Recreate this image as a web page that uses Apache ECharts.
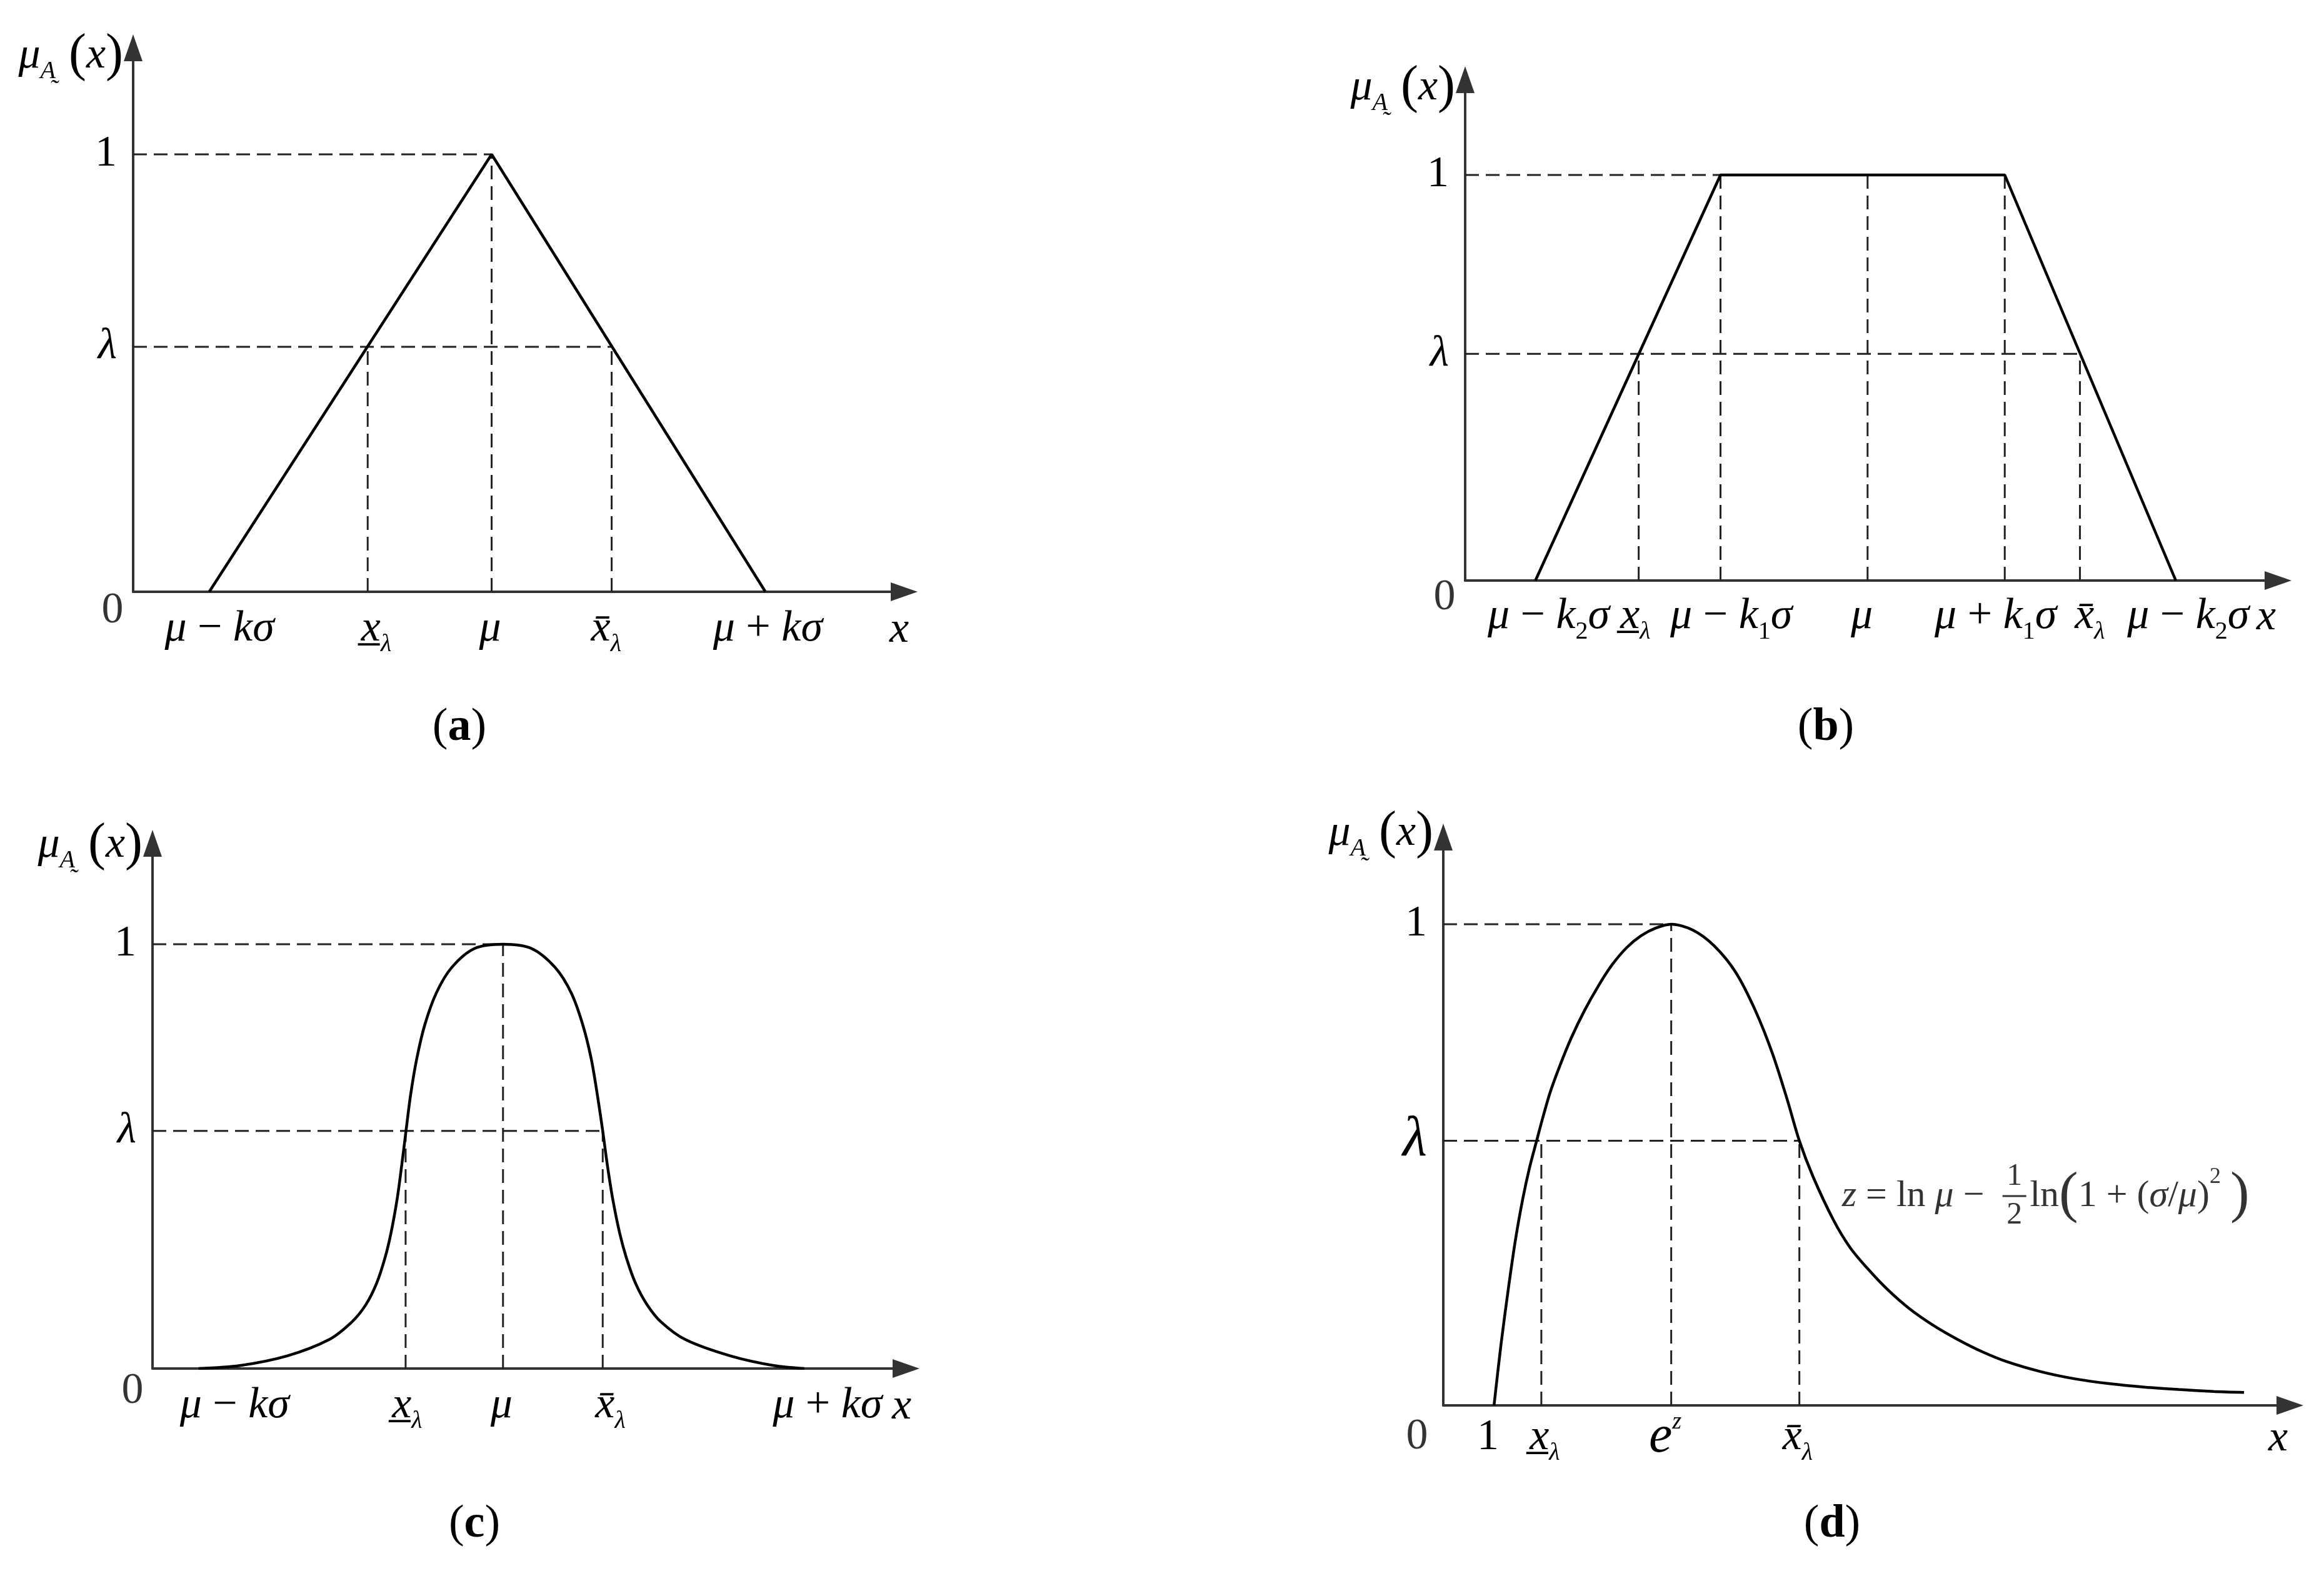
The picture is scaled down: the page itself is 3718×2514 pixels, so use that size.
<!DOCTYPE html>
<html>
<head>
<meta charset="utf-8">
<script src="https://cdn.jsdelivr.net/npm/echarts@6/dist/echarts.min.js"></script>
<style>
  html, body { margin: 0; background: #fff; }
  #chart { width: 3718px; height: 2514px; }
</style>
</head>
<body>
<div id="chart"></div>
<script>
// x values are in "percent of the axis up to the arrow tip", y values are membership degrees

// (a) triangular membership
const aCurve = [[9.7, 0], [45.7, 1], [80.6, 0]]
const aDashes = [
  [[0, 1], [45.7, 1]],
  [[0, 0.56], [61.0, 0.56]],
  [[29.9, 0], [29.9, 0.56]],
  [[45.7, 0], [45.7, 1]],
  [[61.0, 0], [61.0, 0.56]],
]
const aXLabels = [
  [11.0, '{i|μ}{n| − }{i|kσ}'],
  [31.0, '{i|x\u0332}{sub|λ}'],
  [45.5, '{i|μ}'],
  [60.3, '{i|x\u0304}{sub|λ}'],
  [80.9, '{i|μ}{n| + }{i|kσ}'],
]
const aYLabels = [[0.56, '{i|λ}'], [1, '{n|1}']]

// (b) trapezoidal membership
const bCurve = [[8.5, 0], [30.9, 1], [65.3, 1], [86.0, 0]]
const bDashes = [
  [[0, 1], [30.9, 1]],
  [[0, 0.559], [74.4, 0.559]],
  [[21.0, 0], [21.0, 0.559]],
  [[30.9, 0], [30.9, 1]],
  [[48.7, 0], [48.7, 1]],
  [[65.3, 0], [65.3, 1]],
  [[74.4, 0], [74.4, 0.559]],
]
const bXLabels = [
  [10.1, '{i|μ}{n| − }{i|k}{subn|2}{i|σ}'],
  [20.6, '{i|x\u0332}{sub|λ}'],
  [32.2, '{i|μ}{n| − }{i|k}{subn|1}{i|σ}'],
  [48.0, '{i|μ}'],
  [64.2, '{i|μ}{n| + }{i|k}{subn|1}{i|σ}'],
  [75.6, '{i|x\u0304}{sub|λ}'],
  [87.5, '{i|μ}{n| − }{i|k}{subn|2}{i|σ}'],
]
const bYLabels = [[0.559, '{i|λ}'], [1, '{n|1}']]

// (c) normal-like membership
const cCurve = [
  [6.0, 0], [11.4, 0.007], [17.6, 0.03], [23.0, 0.068], [26.0, 0.11], [27.8, 0.15],
  [29.2, 0.2], [30.3, 0.26], [31.1, 0.32], [31.9, 0.4], [32.5, 0.48], [33.05, 0.56],
  [33.65, 0.645], [34.45, 0.73], [35.5, 0.81], [37.0, 0.885], [39.0, 0.945], [42.0, 0.99],
  [45.7, 1.0],
  [49.4, 0.99], [52.5, 0.945], [54.6, 0.885], [56.1, 0.81], [57.2, 0.73], [58.0, 0.645],
  [58.7, 0.56], [59.3, 0.48], [60.0, 0.4], [60.9, 0.32], [61.8, 0.26], [63.0, 0.2],
  [64.5, 0.15], [66.3, 0.11], [69.5, 0.068], [75.3, 0.03], [81.0, 0.007], [85.0, 0],
]
const cDashes = [
  [[0, 1], [45.7, 1]],
  [[0, 0.56], [58.7, 0.56]],
  [[33.0, 0], [33.0, 0.56]],
  [[45.7, 0], [45.7, 1]],
  [[58.7, 0], [58.7, 0.56]],
]
const cXLabels = [
  [10.7, '{i|μ}{n| − }{i|kσ}'],
  [33.2, '{i|x\u0332}{sub|λ}'],
  [45.5, '{i|μ}'],
  [59.7, '{i|x\u0304}{sub|λ}'],
  [88.0, '{i|μ}{n| + }{i|kσ}'],
]
const cYLabels = [[0.56, '{i|λ}'], [1, '{n|1}']]

// (d) lognormal-like membership
const dCurve = [
  [5.9, 0], [6.7, 0.125], [7.6, 0.247], [8.4, 0.345], [9.24, 0.429], [10.0, 0.492],
  [10.9, 0.553], [11.6, 0.6], [12.45, 0.652], [13.6, 0.708], [14.86, 0.763], [16.4, 0.82],
  [18.07, 0.873], [19.6, 0.915], [21.3, 0.951], [23.0, 0.976], [24.7, 0.992], [26.5, 1.0],
  [29.0, 0.988], [31.5, 0.955], [34.0, 0.9], [36.3, 0.82], [38.3, 0.73], [40.0, 0.635],
  [41.4, 0.55], [43.0, 0.475], [45.4, 0.384], [47.3, 0.328], [49.4, 0.283], [51.7, 0.24],
  [54.2, 0.201], [57.0, 0.166], [59.8, 0.137], [62.6, 0.112], [65.5, 0.091], [69.5, 0.07],
  [73.5, 0.055], [77.5, 0.045], [81.5, 0.038], [85.5, 0.033], [89.6, 0.029], [93.1, 0.027],
]
const dDashes = [
  [[0, 1], [26.5, 1]],
  [[0, 0.55], [41.4, 0.55]],
  [[11.4, 0], [11.4, 0.55]],
  [[26.5, 0], [26.5, 1]],
  [[41.4, 0], [41.4, 0.55]],
]
const dXLabels = [
  [5.2, '{n|1}'],
  [11.8, '{i|x\u0332}{sub|λ}'],
  [25.8, '{e|e}{sup|z}'],
  [41.2, '{i|x\u0304}{sub|λ}'],
]
const dYLabels = [[0.55, '{L|λ}'], [1, '{n|1}']]
const dFormula = [
  [62.9, 0.435, 'right', '{fi|z}{fn| = ln }{fi|μ}{fn| −}'],
  [66.4, 0.435, 'center', '{fr|1}\n{bar| }\n{fr|2}'],
  [68.2, 0.435, 'left', '{fn|ln}{fb|(}{fn|1 + (}{fi|σ}{fn|/}{fi|μ}{fn|)}{fsup|2}{fn| }{fb|)}'],
]

const captions = ['a', 'b', 'c', 'd']
const yName = '{i|μ}{sub|A\u0330}{p| (}{i|x}{p|)}'

// layout of each panel in pixels: origin, arrow tips, pixel height of membership 1
const panels = [
  { curve: aCurve, smooth: false, dashes: aDashes, xl: aXLabels, yl: aYLabels, ox: 213, oy: 947, tipX: 1468, tipY: 55, unit: 700, lblMargin: 16, nameDy: 35, xNameDx: -8, zero: [-33, 31], cap: [735, 1128] },
  { curve: bCurve, smooth: false, dashes: bDashes, xl: bXLabels, yl: bYLabels, ox: 2344, oy: 929, tipX: 3666, tipY: 106, unit: 649, lblMargin: 14, nameDy: 35, xNameDx: -19, zero: [-33, 28], cap: [2921, 1128] },
  { curve: cCurve, smooth: 0.3, dashes: cDashes, xl: cXLabels, yl: cYLabels, ox: 244, oy: 2190, tipX: 1471, tipY: 1328, unit: 679, lblMargin: 16, nameDy: 25, xNameDx: -7, zero: [-32, 37], cap: [759, 2403] },
  { curve: dCurve, smooth: 0.3, dashes: dDashes, xl: dXLabels, yl: dYLabels, ox: 2309, oy: 2249, tipX: 3685, tipY: 1318, unit: 770, lblMargin: 8, nameDy: 16, xNameDx: -19, zero: [-42, 51], cap: [2931, 2403] },
]

const SERIF = '"Liberation Serif", "DejaVu Serif", serif'
const ARROW = [30, 43]
const AXIS_COLOR = '#333'

const rich = {
  i: { fontFamily: SERIF, fontStyle: 'italic', fontSize: 70, lineHeight: 88, color: '#000' },
  n: { fontFamily: SERIF, fontSize: 70, lineHeight: 88, color: '#000' },
  p: { fontFamily: SERIF, fontSize: 84, lineHeight: 88, color: '#000' },
  sub: { fontFamily: SERIF, fontStyle: 'italic', fontSize: 40, lineHeight: 44, verticalAlign: 'bottom', color: '#000' },
  subn: { fontFamily: SERIF, fontSize: 40, lineHeight: 44, verticalAlign: 'bottom', color: '#000' },
  sup: { fontFamily: SERIF, fontStyle: 'italic', fontSize: 38, lineHeight: 42, verticalAlign: 'top', color: '#000' },
  e: { fontFamily: SERIF, fontStyle: 'italic', fontSize: 84, lineHeight: 88, color: '#000' },
  L: { fontFamily: SERIF, fontStyle: 'italic', fontSize: 90, lineHeight: 94, color: '#000' },
  fi: { fontFamily: SERIF, fontStyle: 'italic', fontSize: 60, lineHeight: 64, color: '#000' },
  fn: { fontFamily: SERIF, fontSize: 60, lineHeight: 64, color: '#000' },
  fr: { fontFamily: SERIF, fontSize: 50, lineHeight: 50, color: '#000' },
  fb: { fontFamily: SERIF, fontSize: 92, lineHeight: 98, color: '#000' },
  fsup: { fontFamily: SERIF, fontSize: 36, lineHeight: 48, verticalAlign: 'top', color: '#000' },
  bar: { fontSize: 2, width: 38, height: 3, lineHeight: 12, backgroundColor: '#000' },
}

const lookup = (list) => (v) => {
  const hit = list.find(d => Math.abs(d[0] - v) < 1e-6)
  return hit ? hit[1] : ''
}

const grid = [], xAxis = [], yAxis = [], series = [], title = []

panels.forEach((p, k) => {
  const top = p.tipY + ARROW[1] / 2
  const right = p.tipX - ARROW[1] / 2
  grid.push({ left: p.ox, top, width: right - p.ox, height: p.oy - top, outerBoundsMode: 'none' })

  const axisLine = { show: true, onZero: false, symbol: ['none', 'triangle'], symbolSize: ARROW, lineStyle: { color: AXIS_COLOR, width: 4 } }

  xAxis.push({
    gridIndex: k, type: 'value', min: 0, max: 100 * (right - p.ox) / (p.tipX - p.ox),
    axisLine, axisTick: { show: false }, splitLine: { show: false },
    axisLabel: { customValues: p.xl.map(d => d[0]), formatter: lookup(p.xl), rich, margin: p.lblMargin, hideOverlap: false },
    name: '{i|x}', nameLocation: 'end', nameGap: p.xNameDx, nameMoveOverlap: false,
    nameTextStyle: { rich, align: 'center', verticalAlign: 'top', padding: [p.lblMargin + 2, 0, 0, 0] },
  })

  yAxis.push({
    gridIndex: k, type: 'value', min: 0, max: (p.oy - top) / p.unit,
    axisLine, axisTick: { show: false }, splitLine: { show: false },
    axisLabel: { customValues: p.yl.map(d => d[0]), formatter: lookup(p.yl), rich, margin: 26 },
    name: yName, nameLocation: 'end', nameGap: -(p.nameDy - ARROW[1] / 2), nameMoveOverlap: false,
    nameTextStyle: { rich, align: 'right', verticalAlign: 'middle', padding: [0, 16, 0, 0] },
  })

  p.dashes.forEach(seg => series.push({
    type: 'line', xAxisIndex: k, yAxisIndex: k, data: seg, symbol: 'none', silent: true, z: 2,
    lineStyle: { color: '#222', width: 3, type: [22, 11] },
  }))

  series.push({
    type: 'line', xAxisIndex: k, yAxisIndex: k, data: p.curve, smooth: p.smooth, symbol: 'none', silent: true, z: 3,
    lineStyle: { color: '#000', width: 4.5 },
  })

  // origin "0"
  series.push({
    type: 'scatter', xAxisIndex: k, yAxisIndex: k, data: [[0, 0]], symbolSize: 1, silent: true,
    itemStyle: { color: 'rgba(0,0,0,0)' },
    label: { show: true, position: 'inside', offset: p.zero, formatter: '{n|0}', rich },
  })

  title.push({
    text: '({b|' + captions[k] + '})', left: p.cap[0], top: p.cap[1], textAlign: 'center', padding: 0,
    textStyle: { fontFamily: SERIF, fontSize: 74, fontWeight: 'normal', color: '#000', rich: { b: { fontFamily: SERIF, fontSize: 74, fontWeight: 'bold', color: '#000' } } },
  })
})

// formula annotation in (d)
series.push({
  type: 'scatter', xAxisIndex: 3, yAxisIndex: 3, symbolSize: 1, silent: true,
  itemStyle: { color: 'rgba(0,0,0,0)' },
  data: dFormula.map(f => ({
    value: [f[0], f[1]],
    label: { show: true, position: 'inside', align: f[2], verticalAlign: 'middle', formatter: f[3], rich },
  })),
})

const chart = echarts.init(document.getElementById('chart'))
chart.setOption({
  animation: false,
  backgroundColor: '#fff',
  title, grid, xAxis, yAxis, series,
})
</script>
</body>
</html>
